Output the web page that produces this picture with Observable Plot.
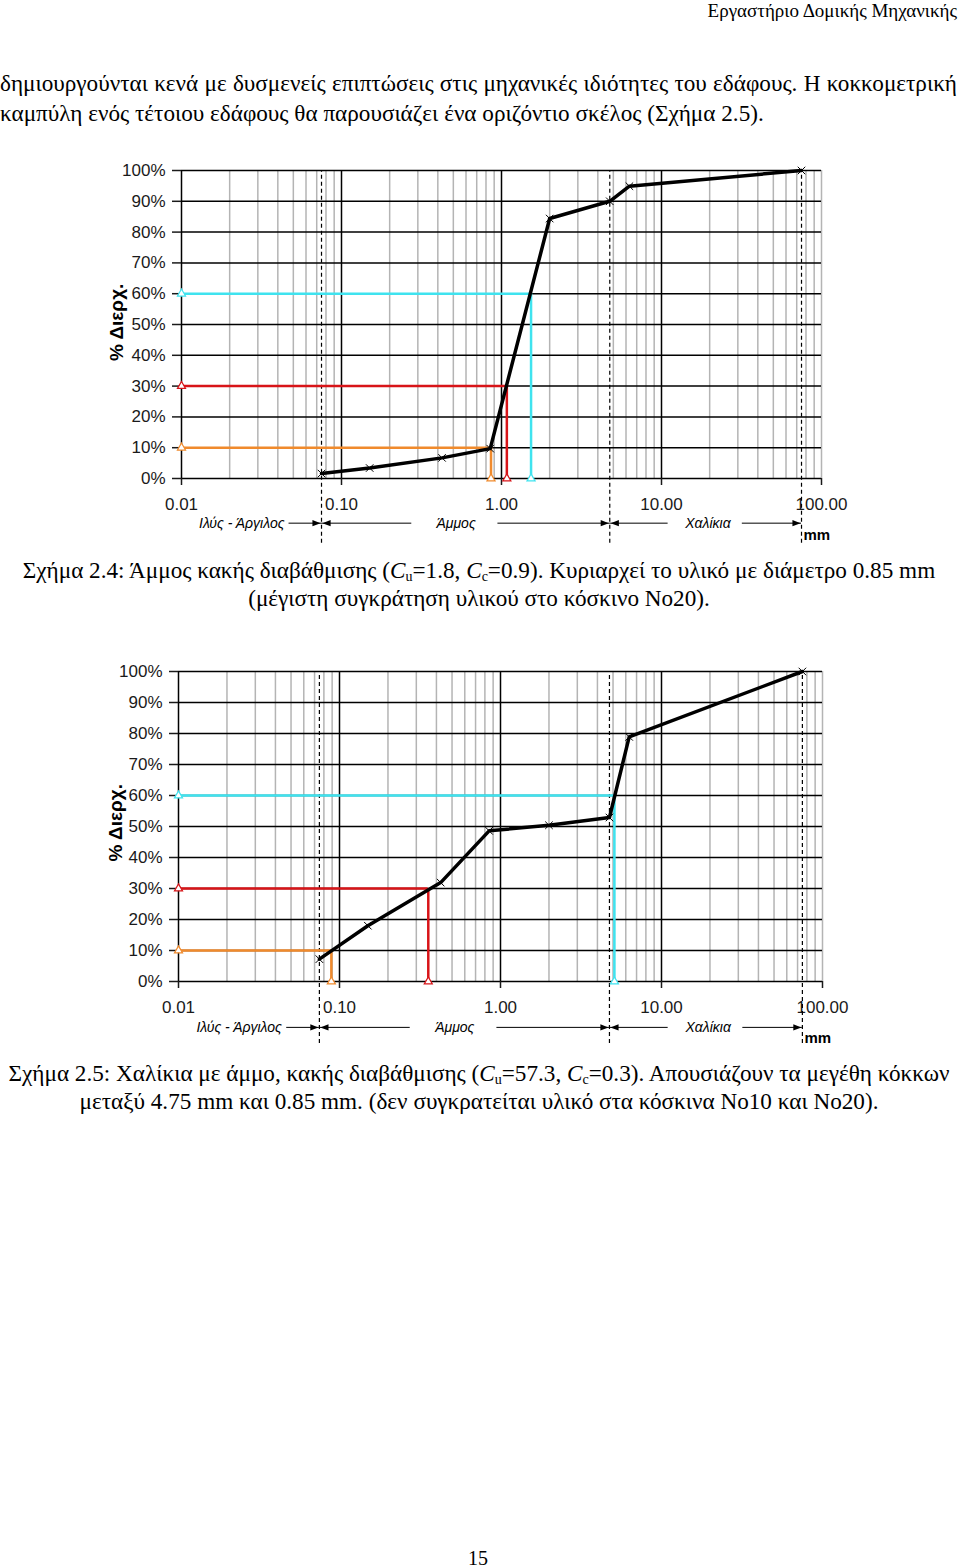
<!DOCTYPE html>
<html><head><meta charset="utf-8">
<script src="https://cdn.jsdelivr.net/npm/d3@7"></script>
<script src="https://cdn.jsdelivr.net/npm/@observablehq/plot@0.6"></script>
<style>
body{margin:0;background:#fff;}
#page{position:relative;width:960px;height:1568px;font-family:"Liberation Serif","Times New Roman",serif;color:#000;background:#fff;overflow:hidden;}
.abs{position:absolute;}
.just{text-align:justify;text-align-last:justify;}
.cap{left:0;width:958px;text-align:center;font-size:23.2px;line-height:28px;white-space:nowrap;}
sub{font-size:14px;vertical-align:-3px;line-height:0;}
</style></head><body><div id="page">
<div class="abs" style="right:3px;top:0px;font-size:19px;line-height:22px;">Εργαστήριο Δομικής Μηχανικής</div>
<div class="abs just" style="left:0;top:68px;width:957px;font-size:23.2px;line-height:30px;">δημιουργούνται κενά με δυσμενείς επιπτώσεις στις μηχανικές ιδιότητες του εδάφους. Η κοκκομετρική</div>
<div class="abs" style="left:0;top:98px;font-size:23.2px;line-height:30px;white-space:nowrap;">καμπύλη ενός τέτοιου εδάφους θα παρουσιάζει ένα οριζόντιο σκέλος (Σχήμα 2.5).</div>
<div class="abs" id="c1" style="left:100px;top:150px;"></div>
<div class="abs cap" style="top:556px;">Σχήμα 2.4: Άμμος κακής διαβάθμισης (<i>C</i><sub>u</sub>=1.8, <i>C</i><sub>c</sub>=0.9). Κυριαρχεί το υλικό με διάμετρο 0.85 mm<br>(μέγιστη συγκράτηση υλικού στο κόσκινο Νο20).</div>
<div class="abs" id="c2" style="left:100px;top:650px;"></div>
<div class="abs cap" style="top:1059px;">Σχήμα 2.5: Χαλίκια με άμμο, κακής διαβάθμισης (<i>C</i><sub>u</sub>=57.3, <i>C</i><sub>c</sub>=0.3). Απουσιάζουν τα μεγέθη κόκκων<br>μεταξύ 4.75 mm και 0.85 mm. (δεν συγκρατείται υλικό στα κόσκινα Νο10 και Νο20).</div>
<div class="abs" style="left:0;width:956px;text-align:center;top:1545px;font-size:20px;line-height:26px;">15</div>
</div>
<script>
// ---- data ----
const sieveSizes1 = [0.075, 0.15, 0.425, 0.85, 2.0, 4.75, 6.3, 75];
const passing1    = [1.6, 3.4, 6.7, 9.7, 84.4, 90.0, 94.9, 100];
const sieveSizes2 = [0.075, 0.15, 0.425, 0.85, 2.0, 4.75, 6.3, 75];
const passing2    = [7.2, 18.0, 31.9, 48.6, 50.4, 52.9, 78.9, 100];
const dLevels  = [10, 30, 60];
const dValues1 = [0.86, 1.08, 1.53];
const dValues2 = [0.089, 0.356, 5.1];
const zoneBounds = [0.075, 4.75, 75];
const zoneNames  = ["Ιλύς - Άργιλος", "Άμμος", "Χαλίκια"];
const zoneCenters = [0.0238, 0.52, 19.5];
const xTickValues = [0.01, 0.1, 1, 10, 100];
const xTickLabels = ["0.01", "0.10", "1.00", "10.00", "100.00"];
const yTickValues = [0, 10, 20, 30, 40, 50, 60, 70, 80, 90, 100];
const yTickLabels = ["0%", "10%", "20%", "30%", "40%", "50%", "60%", "70%", "80%", "90%", "100%"];
const minorMultipliers = [2, 3, 4, 5, 6, 7, 8, 9];
const yTitle = "% Διερχ.";
const unitLabel = "mm";
// arrow spans (mm) along the zone annotation row
const arrowsRight = [[0.047, 0.075], [0.95, 4.75], [32, 75]];
const arrowsLeft  = [[0.075, 0.275], [4.75, 11]];

// ---- styles ----
const dColors = ["#f08a2c", "#d81418", "#3fe3ef"];

const triRight = {draw(ctx, size){const r = Math.sqrt(size / 3); ctx.moveTo(r, 0); ctx.lineTo(-r, -r * 0.75); ctx.lineTo(-r, r * 0.75); ctx.closePath();}};
const triLeft  = {draw(ctx, size){const r = Math.sqrt(size / 3); ctx.moveTo(-r, 0); ctx.lineTo(r, -r * 0.75); ctx.lineTo(r, r * 0.75); ctx.closePath();}};

function chart(cfg) {
  const pts = cfg.sizes.map((s, i) => ({d: s, p: cfg.passing[i]}));
  const minor = [0.01, 0.1, 1, 10].flatMap(dec => minorMultipliers.map(m => dec * m)).filter(v => v < 100);
  const dl = dLevels.map((lv, i) => ({lv, d: cfg.dvals[i], c: dColors[i]}));
  const dEnds = dl.flatMap(o => [{x: 0.01, y: o.lv, c: o.c}, {x: o.d, y: 0, c: o.c}]);
  const zones = zoneNames.map((n, i) => ({n, x: zoneCenters[i]}));
  const ar = arrowsRight.map(a => ({a: a[0], b: a[1]}));
  const al = arrowsLeft.map(a => ({a: a[0], b: a[1]}));
  const yA = cfg.arrowY;
  return Plot.plot({
    width: 760, height: 400,
    marginLeft: cfg.ml, marginRight: cfg.mr, marginTop: cfg.mt, marginBottom: cfg.mb,
    style: {fontFamily: "'Liberation Sans', Arial, sans-serif", background: "#fff", color: "#1a1a1a", overflow: "visible"},
    x: {type: "log", domain: [0.01, 100]},
    y: {domain: [0, 100]},
    color: {type: "identity"},
    marks: [
      Plot.ruleX(minor.concat([100]), {y1: 0, y2: 100, stroke: "#b4b4b4", strokeWidth: 1.5}),
      Plot.ruleY(yTickValues, {x1: 0.01, x2: 100, stroke: "#000", strokeWidth: 1.5}),
      Plot.ruleX([0.01, 0.1, 1, 10], {y1: 0, y2: 100, stroke: "#000", strokeWidth: 1.5}),
      Plot.axisY({ticks: yTickValues, tickFormat: d => yTickLabels[yTickValues.indexOf(d)], tickSize: 9, tickPadding: 7, fontSize: 17, label: null, strokeWidth: 1.5}),
      Plot.axisX({ticks: xTickValues, tickFormat: d => xTickLabels[xTickValues.indexOf(d)], tickSize: 7, tickPadding: 12, fontSize: 17, label: null, strokeWidth: 1.5}),
      Plot.ruleX(zoneBounds, {y1: cfg.dashBottom, y2: 100, stroke: "#000", strokeWidth: 1.2, strokeDasharray: "4,3"}),
      Plot.ruleY(dl, {y: "lv", x1: 0.01, x2: "d", stroke: "c", strokeWidth: 2.5}),
      Plot.ruleX(dl, {x: "d", y1: 0, y2: "lv", stroke: "c", strokeWidth: 2.5}),
      Plot.dot(dEnds, {x: "x", y: "y", symbol: "triangle", r: 3, stroke: "c", fill: "white", strokeWidth: 1.2}),
      Plot.line(pts, {x: "d", y: "p", stroke: "#000", strokeWidth: 3.5}),
      Plot.dot(pts, {x: "d", y: "p", symbol: "times", r: 3.5, stroke: "#000", strokeWidth: 1}),
      Plot.text([yTitle], {x: 0.01, y: cfg.titleY, dx: cfg.titleDx, rotate: -90, text: d => d, fontWeight: "bold", fontSize: 19, fill: "#000"}),
      Plot.text(zones, {x: "x", y: yA, text: "n", fontStyle: "italic", fontSize: 14, fill: "#000"}),
      Plot.ruleY(ar, {y: yA, x1: "a", x2: "b", stroke: "#000", strokeWidth: 1}),
      Plot.ruleY(al, {y: yA, x1: "a", x2: "b", stroke: "#000", strokeWidth: 1}),
      Plot.dot(ar, {x: "b", y: yA, dx: -5, symbol: triRight, r: 4, fill: "#000", stroke: "none"}),
      Plot.dot(al, {x: "a", y: yA, dx: 5, symbol: triLeft, r: 4, fill: "#000", stroke: "none"}),
      Plot.text([unitLabel], {x: 75, y: cfg.mmY, dx: 2, text: d => d, textAnchor: "start", fontWeight: "bold", fontSize: 15, fill: "#000"})
    ]
  });
}

document.getElementById("c1").appendChild(chart({
  sizes: sieveSizes1, passing: passing1, dvals: dValues1,
  ml: 81, mr: 39, mt: 20, mb: 72,
  arrowY: -14.5, mmY: -18.3, dashBottom: -21, titleY: 50.7, titleDx: -65
}));
document.getElementById("c2").appendChild(chart({
  sizes: sieveSizes2, passing: passing2, dvals: dValues2,
  ml: 78, mr: 38, mt: 21, mb: 69,
  arrowY: -14.8, mmY: -18.3, dashBottom: -20, titleY: 51.2, titleDx: -63
}));
</script>
</body></html>
